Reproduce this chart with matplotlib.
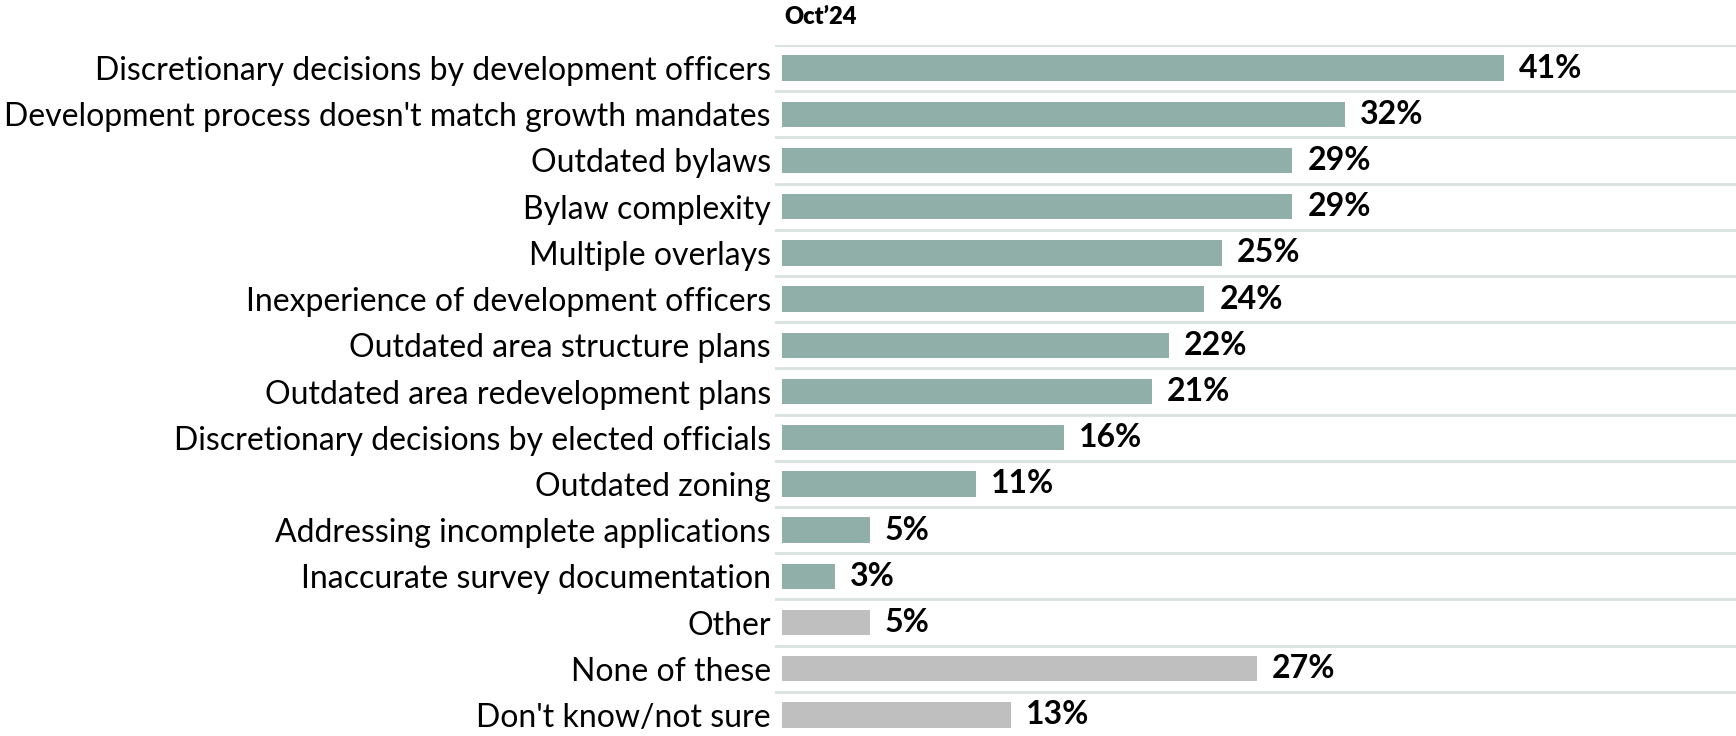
import matplotlib
matplotlib.use("Agg")
import matplotlib.pyplot as plt

categories = [
    "Discretionary decisions by development officers",
    "Development process doesn't match growth mandates",
    "Outdated bylaws",
    "Bylaw complexity",
    "Multiple overlays",
    "Inexperience of development officers",
    "Outdated area structure plans",
    "Outdated area redevelopment plans",
    "Discretionary decisions by elected officials",
    "Outdated zoning",
    "Addressing incomplete applications",
    "Inaccurate survey documentation",
    "Other",
    "None of these",
    "Don't know/not sure",
]
values = [41, 32, 29, 29, 25, 24, 22, 21, 16, 11, 5, 3, 5, 27, 13]
is_other = [False] * 12 + [True] * 3
series_title = "Oct\u201924"

TEAL = "#8fafa8"
GREY = "#bfbfbf"
GRID = "#d8e2df"
FONT = "Lato"

plt.rcParams['font.family'] = [FONT, 'DejaVu Sans']

fig = plt.figure(figsize=(17.36, 7.36), dpi=100)
ax = fig.add_axes([775 / 1736, -2 / 736, 1 - 775 / 1736, 693 / 736])

xmin, xmax = -0.4, 54.2
n = len(categories)
ypos = list(range(n))
colors = [GREY if o else TEAL for o in is_other]
ax.barh(ypos, values, height=0.55, color=colors, zorder=3)

for y in [i - 0.5 for i in range(n)]:
    ax.axhline(y, color=GRID, lw=2, zorder=1)

for y, v in zip(ypos, values):
    ax.text(v + 0.85, y, f"{v}%", va="center", ha="left",
            fontsize=23, fontweight="bold", color="black")

ax.set_xlim(xmin, xmax)
ax.set_ylim(n - 0.5, -0.5)
ax.set_yticks(ypos)
ax.set_yticklabels(categories, fontsize=23)
ax.tick_params(axis="y", length=0, pad=3)
ax.set_xticks([])
for s in ax.spines.values():
    s.set_visible(False)

fig.text(784 / 1736, 1 - 17 / 736, series_title, ha="left", va="center",
         fontsize=17, fontweight="heavy")

fig.savefig("out.png", dpi=100)
